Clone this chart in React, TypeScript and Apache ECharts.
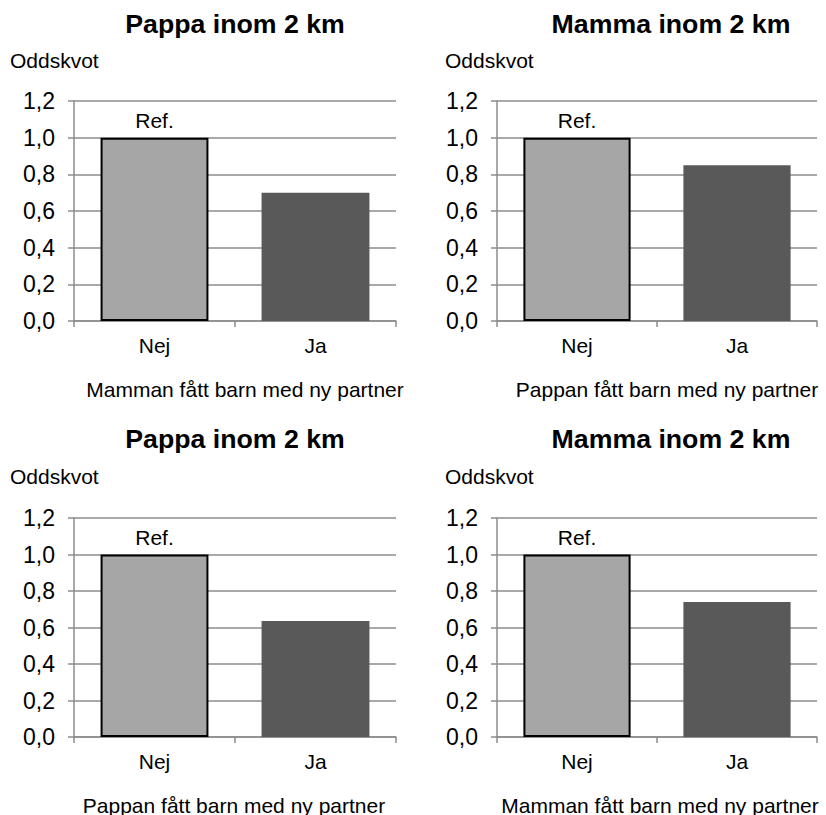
import React, { useEffect, useRef } from "react";
import * as echarts from "echarts";

const categories = ["Nej", "Ja"];
const pappaMammanNy = [1.0, 0.7];
const mammaPappanNy = [1.0, 0.85];
const pappaPappanNy = [1.0, 0.635];
const mammaMammanNy = [1.0, 0.74];
const panelValues = [pappaMammanNy, mammaPappanNy, pappaPappanNy, mammaMammanNy];
const panelTitles = ["Pappa inom 2 km", "Mamma inom 2 km", "Pappa inom 2 km", "Mamma inom 2 km"];
const panelXNames = [
  "Mamman fått barn med ny partner",
  "Pappan fått barn med ny partner",
  "Pappan fått barn med ny partner",
  "Mamman fått barn med ny partner",
];
const yName = "Oddskvot";
const refLabel = "Ref.";

const FONT = "'Liberation Sans', Arial, sans-serif";
const GRID_COLOR = "#8c8c8c";

// layout (positions only)
const grids = [
  { left: 74, top: 101, width: 322, height: 220 },
  { left: 497, top: 101, width: 320, height: 220 },
  { left: 74, top: 518, width: 322, height: 219 },
  { left: 497, top: 518, width: 320, height: 219 },
];
const titlePos = [
  { x: 235, y: 24 },
  { x: 671, y: 24 },
  { x: 235, y: 439 },
  { x: 671, y: 439 },
];
const yNamePos = [
  { x: 10, y: 60.5 },
  { x: 445, y: 60.5 },
  { x: 10, y: 476 },
  { x: 445, y: 476 },
];
const xNamePos = [
  { x: 245, y: 389 },
  { x: 667, y: 389 },
  { x: 234, y: 805 },
  { x: 660, y: 805 },
];

export default function App() {
  const ref = useRef<HTMLDivElement>(null);
  useEffect(() => {
    if (!ref.current) return;
    const chart = echarts.init(ref.current, undefined, { renderer: "svg" });
    const fmt = (v: number) => v.toFixed(1).replace(".", ",");
    const graphic: any[] = [];
    panelTitles.forEach((t, i) => {
      graphic.push({
        type: "text",
        x: titlePos[i].x,
        y: titlePos[i].y,
        style: {
          text: t,
          font: `bold 26.7px ${FONT}`,
          fill: "#000",
          textAlign: "center",
          textVerticalAlign: "middle",
        },
      });
      graphic.push({
        type: "text",
        x: yNamePos[i].x,
        y: yNamePos[i].y,
        style: {
          text: yName,
          font: `21px ${FONT}`,
          fill: "#000",
          textAlign: "left",
          textVerticalAlign: "middle",
        },
      });
      graphic.push({
        type: "text",
        x: xNamePos[i].x,
        y: xNamePos[i].y,
        style: {
          text: panelXNames[i],
          font: `21px ${FONT}`,
          fill: "#000",
          textAlign: "center",
          textVerticalAlign: "middle",
        },
      });
    });

    const option: any = {
      animation: false,
      backgroundColor: "#fff",
      grid: grids.map((g) => ({ ...g, containLabel: false })),
      xAxis: grids.map((_, i) => ({
        type: "category",
        gridIndex: i,
        data: categories,
        axisLine: { show: true, lineStyle: { color: GRID_COLOR, width: 1.5 } },
        axisTick: { show: true, length: 6, alignWithLabel: false, lineStyle: { color: GRID_COLOR, width: 1.5 } },
        axisLabel: { color: "#000", fontSize: 21, fontFamily: FONT, margin: 14 },
        splitLine: { show: false },
      })),
      yAxis: grids.map((_, i) => ({
        type: "value",
        gridIndex: i,
        min: 0,
        max: 1.2,
        interval: 0.2,
        axisLine: { show: true, lineStyle: { color: GRID_COLOR, width: 1.5 } },
        axisTick: { show: true, length: 6, lineStyle: { color: GRID_COLOR, width: 1.5 } },
        axisLabel: { color: "#000", fontSize: 23, fontFamily: FONT, margin: 19, formatter: fmt },
        splitLine: { show: true, lineStyle: { color: GRID_COLOR, width: 1.5 } },
      })),
      series: panelValues.map((vals, i) => ({
        type: "bar",
        xAxisIndex: i,
        yAxisIndex: i,
        barCategoryGap: "33%",
        data: vals.map((v, j) =>
          j === 0
            ? {
                value: v,
                itemStyle: { color: "#a6a6a6", borderColor: "#000", borderWidth: 2 },
                label: {
                  show: true,
                  position: "top",
                  distance: 7,
                  formatter: refLabel,
                  color: "#000",
                  fontSize: 21,
                  fontFamily: FONT,
                },
              }
            : { value: v, itemStyle: { color: "#595959" } }
        ),
      })),
      graphic,
    };
    chart.setOption(option);
    return () => chart.dispose();
  }, []);
  return (
    <div
      ref={ref}
      style={{ position: "absolute", left: 0, top: 0, width: 826, height: 815, background: "#fff" }}
    />
  );
}
